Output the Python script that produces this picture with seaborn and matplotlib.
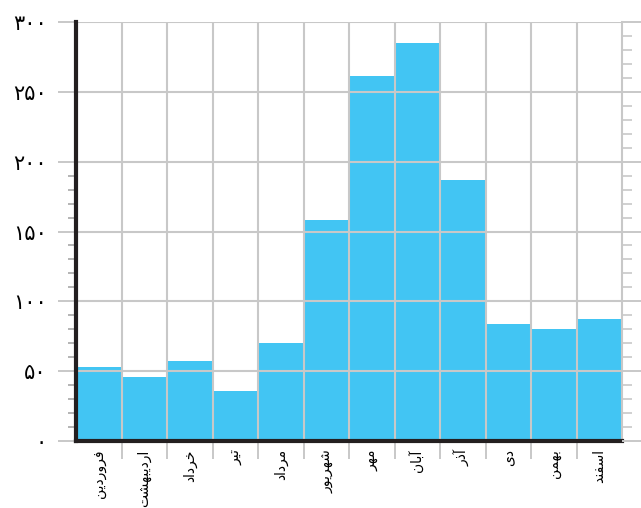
import pandas as pd
import numpy as np
import matplotlib
matplotlib.use("Agg")
import matplotlib.pyplot as plt
import seaborn as sns

# Persian months and values
months = ["فروردین", "اردیبهشت", "خرداد", "تیر", "مرداد", "شهریور",
          "مهر", "آبان", "آذر", "دی", "بهمن", "اسفند"]
values = [53, 46, 57, 36, 70, 158, 261, 285, 187, 84, 80, 87]
ytick_values = [0, 50, 100, 150, 200, 250, 300]
ytick_labels = ["۰", "۵۰", "۱۰۰", "۱۵۰", "۲۰۰", "۲۵۰", "۳۰۰"]

bar_color = "#42c5f3"
grid_color = "#c8c8c8"

# matplotlib has no arabic shaping, so map letters to presentation forms
# (isolated, final, initial, medial); None = does not join to the next letter
FORMS = {
    "ا": ("\ufe8d", "\ufe8e", None, None),
    "آ": ("\ufe81", "\ufe82", None, None),
    "ب": ("\ufe8f", "\ufe90", "\ufe91", "\ufe92"),
    "ت": ("\ufe95", "\ufe96", "\ufe97", "\ufe98"),
    "خ": ("\ufea5", "\ufea6", "\ufea7", "\ufea8"),
    "د": ("\ufea9", "\ufeaa", None, None),
    "ذ": ("\ufeab", "\ufeac", None, None),
    "ر": ("\ufead", "\ufeae", None, None),
    "س": ("\ufeb1", "\ufeb2", "\ufeb3", "\ufeb4"),
    "ش": ("\ufeb5", "\ufeb6", "\ufeb7", "\ufeb8"),
    "ف": ("\ufed1", "\ufed2", "\ufed3", "\ufed4"),
    "م": ("\ufee1", "\ufee2", "\ufee3", "\ufee4"),
    "ن": ("\ufee5", "\ufee6", "\ufee7", "\ufee8"),
    "ه": ("\ufee9", "\ufeea", "\ufeeb", "\ufeec"),
    "و": ("\ufeed", "\ufeee", None, None),
    "ی": ("\ufeef", "\ufef0", "\ufef3", "\ufef4"),
}


def shape(word):
    out = []
    for i, ch in enumerate(word):
        f = FORMS[ch]
        prev_joins = i > 0 and FORMS[word[i - 1]][2] is not None
        next_joins = i < len(word) - 1 and f[2] is not None
        if prev_joins and next_joins:
            out.append(f[3])
        elif prev_joins:
            out.append(f[1])
        elif next_joins:
            out.append(f[2])
        else:
            out.append(f[0])
    return "".join(out[::-1])


df = pd.DataFrame({"month": months, "value": values})

fig = plt.figure(figsize=(6.41, 5.08), dpi=100)
ax = fig.add_axes([76 / 641, 67 / 508, 546 / 641, 419 / 508])

sns.barplot(data=df, x="month", y="value", color=bar_color, saturation=1,
            width=1, ax=ax)

ax.set_xlim(-0.5, len(months) - 0.5)
ax.set_ylim(0, 300)
ax.set_xlabel("")
ax.set_ylabel("")

# x: gridlines on bar edges, labels on bar centres
ax.set_xticks(np.arange(0.5, len(months) - 1, 1))
ax.set_xticklabels([])
ax.set_xticks(np.arange(len(months)), minor=True)
ax.set_xticklabels([shape(m) for m in months], minor=True, rotation=90,
                   fontsize=10, va="top", ha="center")
ax.tick_params(axis="x", which="major", length=13, width=1.4,
               color=grid_color)
ax.tick_params(axis="x", which="minor", length=0, pad=6)

# y: persian digits on the left
ax.set_yticks(ytick_values)
ax.set_yticklabels(ytick_labels, fontsize=15)
left_minor = [v for v in range(10, 200, 10) if v % 50]
ax.set_yticks(left_minor, minor=True)
ax.tick_params(axis="y", which="major", length=13, width=1.4,
               color=grid_color, pad=8)
ax.tick_params(axis="y", which="minor", length=6, width=1.2, color="#a8a8a8")

ax.set_axisbelow(False)
ax.grid(True, which="major", color=grid_color, lw=1.5)

ax.spines["top"].set_visible(False)
ax.spines["right"].set_color(grid_color)
ax.spines["right"].set_linewidth(1.5)
ax.spines["left"].set_color("#231f20")
ax.spines["left"].set_linewidth(3)
ax.spines["bottom"].set_color("#231f20")
ax.spines["bottom"].set_linewidth(3)
ax.spines["left"].set_zorder(3)
ax.spines["bottom"].set_zorder(3)

# right side ticks through a twin axis
ax2 = ax.twinx()
ax2.set_ylim(0, 300)
ax2.set_yticks(ytick_values)
ax2.set_yticklabels([])
ax2.set_yticks([v for v in range(10, 300, 10) if v % 50], minor=True)
ax2.tick_params(axis="y", which="major", length=14, width=1.4,
                color=grid_color)
ax2.tick_params(axis="y", which="minor", length=7, width=1.2,
                color=grid_color)
for s in ax2.spines.values():
    s.set_visible(False)

fig.savefig("out.png", dpi=100)
